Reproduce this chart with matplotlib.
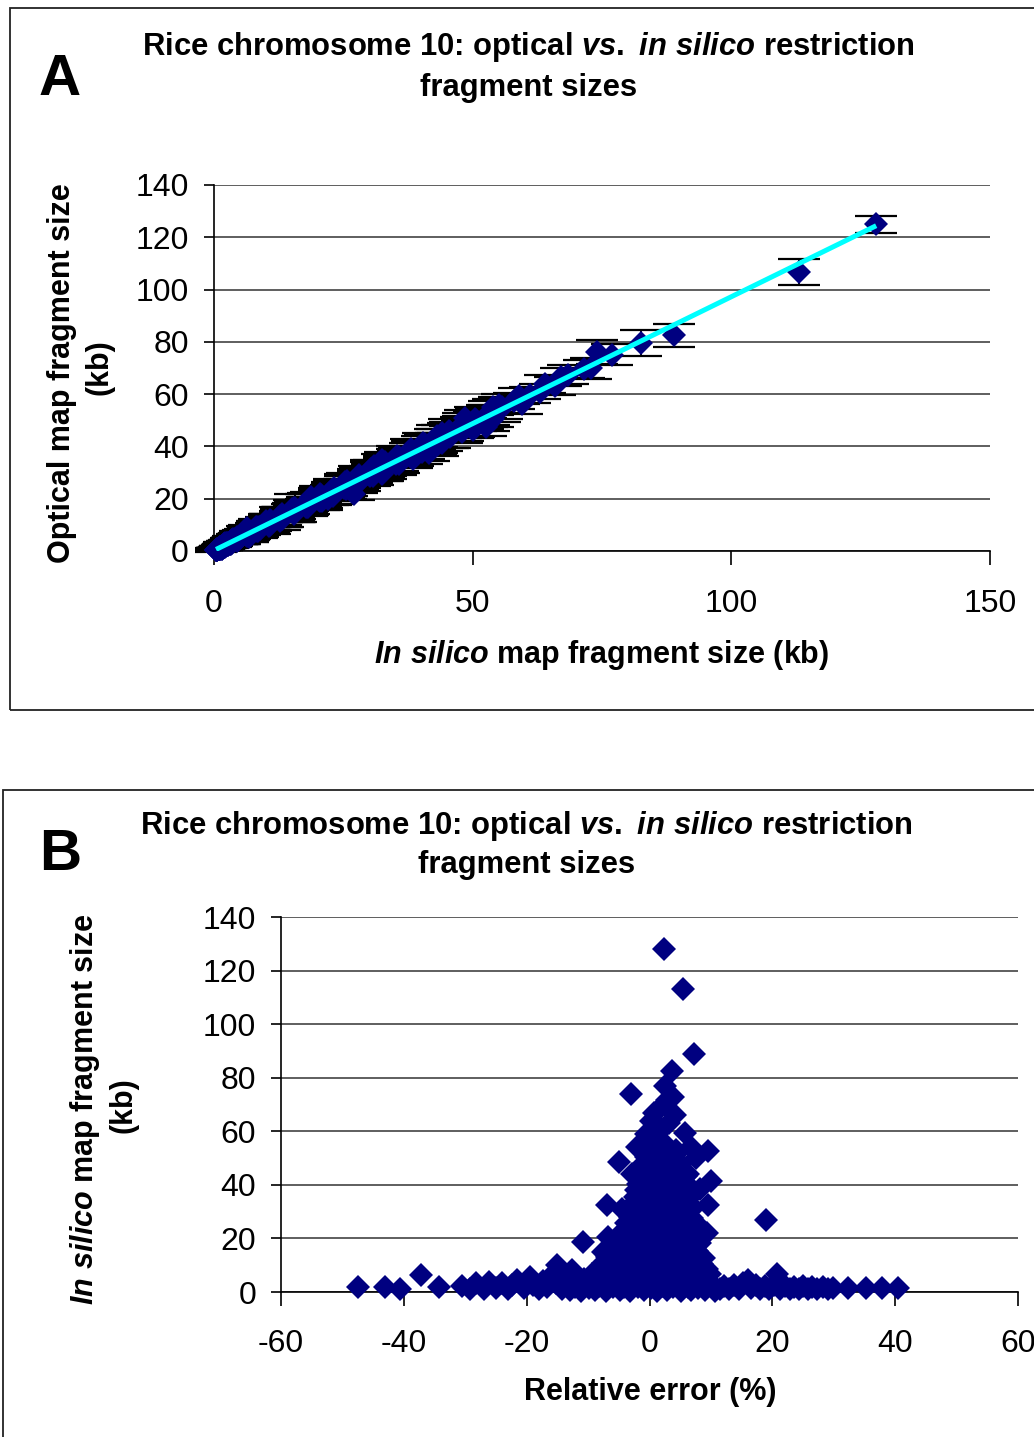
import numpy as np
import matplotlib.pyplot as plt
from matplotlib.patches import Rectangle

plt.rcParams['font.family'] = 'Liberation Sans'
plt.rcParams['axes.unicode_minus'] = False
plt.rcParams['mathtext.fontset'] = 'custom'
plt.rcParams['mathtext.it'] = 'Liberation Sans:italic:bold'
plt.rcParams['mathtext.rm'] = 'Liberation Sans:bold'
plt.rcParams['mathtext.bf'] = 'Liberation Sans:bold'

# relative error (%) = (in silico - optical) / in silico * 100
# each group: relative error (%), in silico fragment size (kb), optical SD (kb)

# dense core, one line per size band
err_core = [
    -13.0, -11.2, -8.9, -7.1, -4.8, -3.1, -0.9, 1.2, 2.9, 5.1, 6.8, 9.1, 10.6,
    -12.1, -9.8, -8.2, -5.9, -4.1, -1.8, 0.2, 2.1, 3.8, 6.2, 7.9, 10.2,
    -11.4, -9.6, -7.3, -5.6, -3.4, -1.6, 0.6, 2.4, 4.6, 6.4, 8.6, 10.1,
    -10.6, -8.4, -6.6, -4.4, -2.6, -0.4, 1.6, 3.4, 5.6, 7.4, 9.6,
    -9.4, -7.6, -5.4, -3.6, -1.4, 0.4, 2.6, 4.4, 6.6, 8.4, 9.9,
    -8.6, -6.4, -4.6, -2.4, -0.6, 1.6, 3.4, 5.6, 7.4, 9.3,
    -7.6, -5.4, -3.6, -1.4, 0.6, 2.4, 4.6, 6.4, 8.6,
    -6.9, -4.7, -2.9, -0.7, 1.3, 3.1, 5.3, 7.1, 8.9,
    -6.1, -4.3, -2.1, -0.3, 1.9, 3.7, 5.9, 7.7,
    -5.4, -3.2, -1.4, 0.8, 2.6, 4.8, 6.6, 8.3,
    -4.7, -2.9, -0.7, 1.1, 3.3, 5.1, 7.3, 8.0,
    -4.1, -1.9, 0.1, 1.9, 4.1, 5.9, 7.8,
    -3.5, -1.7, 0.5, 2.3, 4.5, 6.3, 7.7,
    -3.2, -1.0, 0.8, 3.0, 4.8, 7.0,
    -2.9, -1.1, 1.1, 2.9, 5.1, 6.8,
    -2.5, -0.3, 1.5, 3.7, 5.5, 6.6,
    -2.3, -0.5, 1.7, 3.5, 5.7, 6.7,
    -2.2, 0.0, 1.8, 4.0, 5.8,
    -1.9, -0.1, 2.1, 3.9, 6.1,
    -1.7, 0.5, 2.3, 4.5, 5.9,
    -1.4, 0.4, 2.6, 4.4,
    -0.9, 1.3, 3.1, 5.1,
    -0.5, 1.5, 3.5,
    0.3, 2.1, 4.3,
    0.7, 2.5,
]
size_core = [
    0.6, 0.4, 0.7, 0.5, 0.8, 0.4, 0.6, 0.5, 0.7, 0.4, 0.6, 0.8, 0.5,
    1.9, 1.6, 2.1, 1.7, 2.0, 1.8, 1.5, 2.2, 1.8, 1.9, 1.6, 2.0,
    3.3, 3.0, 3.4, 3.1, 3.5, 3.2, 2.9, 3.3, 3.0, 3.4, 3.1, 2.8,
    4.9, 4.6, 5.0, 4.7, 5.1, 4.8, 4.5, 5.0, 4.7, 4.9, 4.6,
    6.6, 6.3, 6.8, 6.4, 6.7, 6.2, 6.6, 6.9, 6.3, 6.5, 6.8,
    8.4, 8.7, 8.3, 8.8, 8.5, 8.2, 8.6, 8.9, 8.4, 8.6,
    10.9, 10.6, 11.0, 10.7, 10.9, 10.5, 11.1, 10.8, 10.6,
    13.1, 12.8, 13.2, 12.9, 13.3, 12.7, 13.0, 13.2, 12.8,
    15.4, 15.7, 15.3, 15.6, 15.2, 15.8, 15.5, 15.4,
    18.1, 17.8, 18.2, 17.9, 18.3, 17.7, 18.0, 18.2,
    20.4, 20.7, 20.3, 20.6, 20.2, 20.8, 20.5, 20.9,
    23.1, 22.8, 23.2, 22.9, 23.3, 22.7, 23.0,
    25.4, 25.7, 25.3, 25.6, 25.2, 25.8, 25.5,
    28.1, 27.8, 28.2, 27.9, 28.3, 27.7,
    30.4, 30.7, 30.3, 30.6, 30.2, 30.8,
    33.1, 32.8, 33.2, 32.9, 33.3, 32.7,
    35.4, 35.7, 35.3, 35.6, 35.2, 35.8,
    38.1, 37.8, 38.2, 37.9, 38.3,
    40.4, 40.7, 40.3, 40.6, 40.2,
    43.1, 42.8, 43.2, 42.9, 43.3,
    45.4, 45.7, 45.3, 45.6,
    48.1, 47.8, 48.2, 47.9,
    50.4, 50.7, 50.3,
    53.1, 52.8, 53.2,
    55.6, 55.3,
]
sd_core = [
    0.4, 0.5, 0.3, 0.6, 0.5, 0.4, 0.3, 0.5, 0.4, 0.6, 0.5, 0.4, 0.3,
    0.8, 0.6, 0.9, 0.7, 1.0, 0.8, 0.6, 0.9, 1.1, 0.7, 0.8, 0.9,
    1.2, 1.0, 1.4, 1.1, 1.3, 0.9, 1.2, 1.5, 1.0, 1.3, 1.1, 1.2,
    1.6, 1.4, 1.8, 1.5, 2.4, 1.3, 1.7, 2.0, 1.5, 1.9, 1.4,
    2.0, 1.8, 2.6, 1.9, 2.2, 1.7, 2.8, 2.1, 1.9, 2.4, 2.0,
    2.2, 2.9, 2.4, 2.1, 3.0, 2.3, 2.6, 2.2, 2.8, 2.4,
    2.6, 3.1, 2.4, 2.8, 3.3, 2.5, 2.9, 3.6, 2.7,
    2.8, 3.4, 2.6, 3.0, 3.8, 2.7, 3.2, 2.9, 3.5,
    3.2, 5.4, 2.9, 3.5, 3.1, 4.0, 3.0, 3.3,
    3.0, 3.6, 3.3, 2.9, 3.8, 3.2, 3.5, 3.1,
    3.4, 3.1, 3.7, 3.2, 3.9, 3.3, 3.0, 3.6,
    3.5, 3.2, 3.8, 3.4, 3.1, 3.9, 3.3,
    3.3, 3.7, 3.4, 4.0, 3.5, 3.2, 3.8,
    3.6, 3.3, 3.9, 3.5, 3.8, 3.4,
    3.7, 3.4, 4.1, 3.6, 3.9, 3.5,
    3.8, 3.5, 4.2, 3.7, 4.0, 3.6,
    3.9, 3.6, 4.3, 3.8, 4.1, 3.7,
    4.0, 3.7, 4.4, 3.9, 4.2,
    4.1, 3.8, 4.5, 4.0, 4.3,
    4.2, 3.9, 4.6, 4.1, 4.4,
    4.3, 4.0, 4.7, 4.2,
    4.4, 4.1, 4.8, 4.3,
    4.5, 4.2, 4.9,
    4.6, 4.3, 5.0,
    4.7, 4.4,
]

# long tail of small fragments, negative side
err_left = [-47.5, -43.0, -40.7, -34.3, -30.5, -29.2, -28.2, -27.0, -26.1, -25.0,
            -24.0, -23.0, -22.4, -21.6, -20.5, -19.5, -19.0, -18.0, -17.4, -16.7,
            -16.0, -15.2, -14.3, -14.0]
size_left = [1.9, 1.9, 1.1, 1.9, 2.2, 1.0, 3.4, 1.2, 3.7, 1.5,
             3.4, 1.0, 2.5, 4.5, 1.5, 5.6, 2.6, 1.0, 4.0, 2.0,
             6.0, 3.5, 1.2, 5.5]
sd_left = [0.5, 0.5, 0.4, 0.5, 0.6, 0.4, 0.8, 0.4, 0.9, 0.5,
           0.8, 0.4, 0.7, 1.0, 0.5, 1.2, 0.7, 0.4, 0.9, 0.6,
           1.3, 0.8, 0.4, 1.2]

# long tail of small fragments, positive side
err_right = [11.4, 12.2, 13.0, 13.8, 14.6, 15.3, 16.0, 16.6, 17.3, 18.0,
             18.8, 19.5, 20.2, 21.3, 22.0, 22.8, 23.5, 24.3, 25.0, 25.8,
             26.5, 27.3, 28.2, 29.0, 29.8, 32.3, 35.3, 37.9, 40.4]
size_right = [1.1, 2.4, 1.0, 2.6, 1.1, 3.2, 4.4, 1.4, 2.8, 1.0,
              2.2, 1.2, 2.8, 1.0, 2.2, 1.2, 2.0, 1.0, 2.4, 1.2,
              2.0, 1.0, 1.8, 1.0, 1.6, 1.5, 1.5, 1.5, 1.5]
sd_right = [0.4, 0.7, 0.4, 0.7, 0.4, 0.8, 1.0, 0.5, 0.7, 0.4,
            0.6, 0.4, 0.7, 0.4, 0.6, 0.4, 0.6, 0.4, 0.7, 0.4,
            0.6, 0.4, 0.5, 0.4, 0.5, 0.5, 0.5, 0.5, 0.5]

# isolated points (large fragments and outliers)
err_sparse = [2.4, 5.5, 7.3, 3.6, 2.5, -3.0, 3.9, 2.8, 1.5, 0.8,
              4.2, 0.2, 3.2, 2.0, 5.8, -0.6, 1.2, -1.5, -2.0, 6.8,
              9.5, 4.5, 7.5, -5.0, -2.8, 6.2, 10.0, 8.2, 9.5, -7.0,
              -4.5, -3.8, -6.8, -10.8, 19.0, 20.8, -37.2, -15.1, -12.6, 9.3,
              -7.5]
size_sparse = [128.0, 113.0, 89.0, 82.5, 77.0, 74.0, 72.8, 71.5, 68.5, 67.0,
               66.0, 64.0, 63.0, 61.0, 59.5, 59.0, 58.0, 55.0, 54.0, 54.0,
               52.5, 52.0, 50.0, 48.5, 44.0, 44.0, 41.5, 38.5, 32.5, 32.5,
               31.0, 25.7, 20.5, 18.7, 27.0, 6.8, 6.3, 10.1, 8.2, 22.0,
               15.0]
sd_sparse = [3.3, 5.0, 4.5, 5.0, 4.0, 4.5, 4.0, 3.5, 3.5, 3.5,
             3.5, 3.5, 3.0, 3.0, 3.5, 3.0, 3.0, 3.0, 3.0, 3.0,
             3.5, 3.0, 3.0, 3.0, 3.0, 3.0, 3.0, 3.0, 2.5, 2.5,
             2.5, 2.5, 2.0, 2.0, 2.5, 1.0, 1.0, 1.5, 1.5, 2.5,
             2.0]

rel_error = np.array(err_core + err_left + err_right + err_sparse)
insilico = np.array(size_core + size_left + size_right + size_sparse)
sd = np.array(sd_core + sd_left + sd_right + sd_sparse)
optical = insilico * (1 - rel_error / 100)

navy = '#000080'
W, H = 1034, 1437
fig = plt.figure(figsize=(W / 100, H / 100), dpi=100)


def fx(px):
    return px / W


def fy(py):
    return 1 - py / H


def style(ax, xticks, yticks):
    ax.set_xlim(xticks[0], xticks[-1])
    ax.set_ylim(yticks[0], yticks[-1])
    ax.set_xticks(xticks)
    ax.set_yticks(yticks)
    ax.spines['top'].set_visible(False)
    ax.spines['right'].set_visible(False)
    for s in ['left', 'bottom']:
        ax.spines[s].set_linewidth(1.2)
    ax.yaxis.grid(True, color='#333333', lw=1.1)
    ax.set_axisbelow(True)
    ax.tick_params(axis='x', direction='out', length=10, width=1.2, pad=17, labelsize=23)
    ax.tick_params(axis='y', direction='out', length=7, width=1.2, pad=11, labelsize=23)


# panel frames
fig.patches.append(Rectangle((fx(10), fy(710)), 1.0, fy(8) - fy(710), transform=fig.transFigure,
                             fill=False, lw=1.3, ec='#222222'))
fig.patches.append(Rectangle((fx(3), -0.1), 1.0, fy(790) + 0.1, transform=fig.transFigure,
                             fill=False, lw=1.3, ec='#222222'))

title1 = r'Rice chromosome 10: optical $\mathit{vs.}$ $\mathit{in\ silico}$ restriction'
tsize = 22.3

# ---- A ----
axA = fig.add_axes([fx(214), fy(551), fx(990) - fx(214), fy(185) - fy(551)])
style(axA, [0, 50, 100, 150], list(range(0, 141, 20)))
axA.errorbar(insilico, optical, yerr=sd, fmt='none', ecolor='black', elinewidth=1.4,
             capsize=15, capthick=1.6, zorder=2, clip_on=False)
axA.plot(insilico, optical, 'D', ms=12, mfc=navy, mec=navy, mew=0, zorder=3, clip_on=False)
k, b = np.polyfit(insilico, optical, 1)
xs = np.array([insilico.min(), insilico.max()])
axA.plot(xs, k * xs + b, color='#00FFFF', lw=3.6, zorder=4, solid_capstyle='butt')

fig.text(fx(528), fy(47), title1, ha='center', va='center', fontsize=tsize, fontweight='bold')
fig.text(fx(529), fy(88), 'fragment sizes', ha='center', va='center', fontsize=tsize, fontweight='bold')
fig.text(fx(60), fy(80), 'A', ha='center', va='center', fontsize=42, fontweight='bold')
fig.text(fx(602), fy(655), r'$\mathit{In\ silico}$ map fragment size (kb)', ha='center', va='center',
         fontsize=22, fontweight='bold')
fig.text(fx(62), fy(373), 'Optical map fragment size', rotation=90, ha='center', va='center',
         fontsize=22, fontweight='bold')
fig.text(fx(100), fy(367), '(kb)', rotation=90, ha='center', va='center', fontsize=22, fontweight='bold')

# ---- B ----
axB = fig.add_axes([fx(281), fy(1292), fx(1018) - fx(281), fy(917) - fy(1292)])
style(axB, list(range(-60, 61, 20)), list(range(0, 141, 20)))
axB.plot(rel_error, insilico, 'D', ms=12, mfc=navy, mec=navy, mew=0, zorder=3, clip_on=False)

fig.text(fx(526), fy(826), title1, ha='center', va='center', fontsize=tsize, fontweight='bold')
fig.text(fx(527), fy(865), 'fragment sizes', ha='center', va='center', fontsize=tsize, fontweight='bold')
fig.text(fx(60), fy(855), 'B', ha='center', va='center', fontsize=42, fontweight='bold')
fig.text(fx(650), fy(1392), 'Relative error (%)', ha='center', va='center', fontsize=22, fontweight='bold')
fig.text(fx(85), fy(1109), r'$\mathit{In\ silico}$ map fragment size', rotation=90, ha='center',
         va='center', fontsize=22, fontweight='bold')
fig.text(fx(124), fy(1105), '(kb)', rotation=90, ha='center', va='center', fontsize=22, fontweight='bold')

fig.savefig('out.png', dpi=100)
